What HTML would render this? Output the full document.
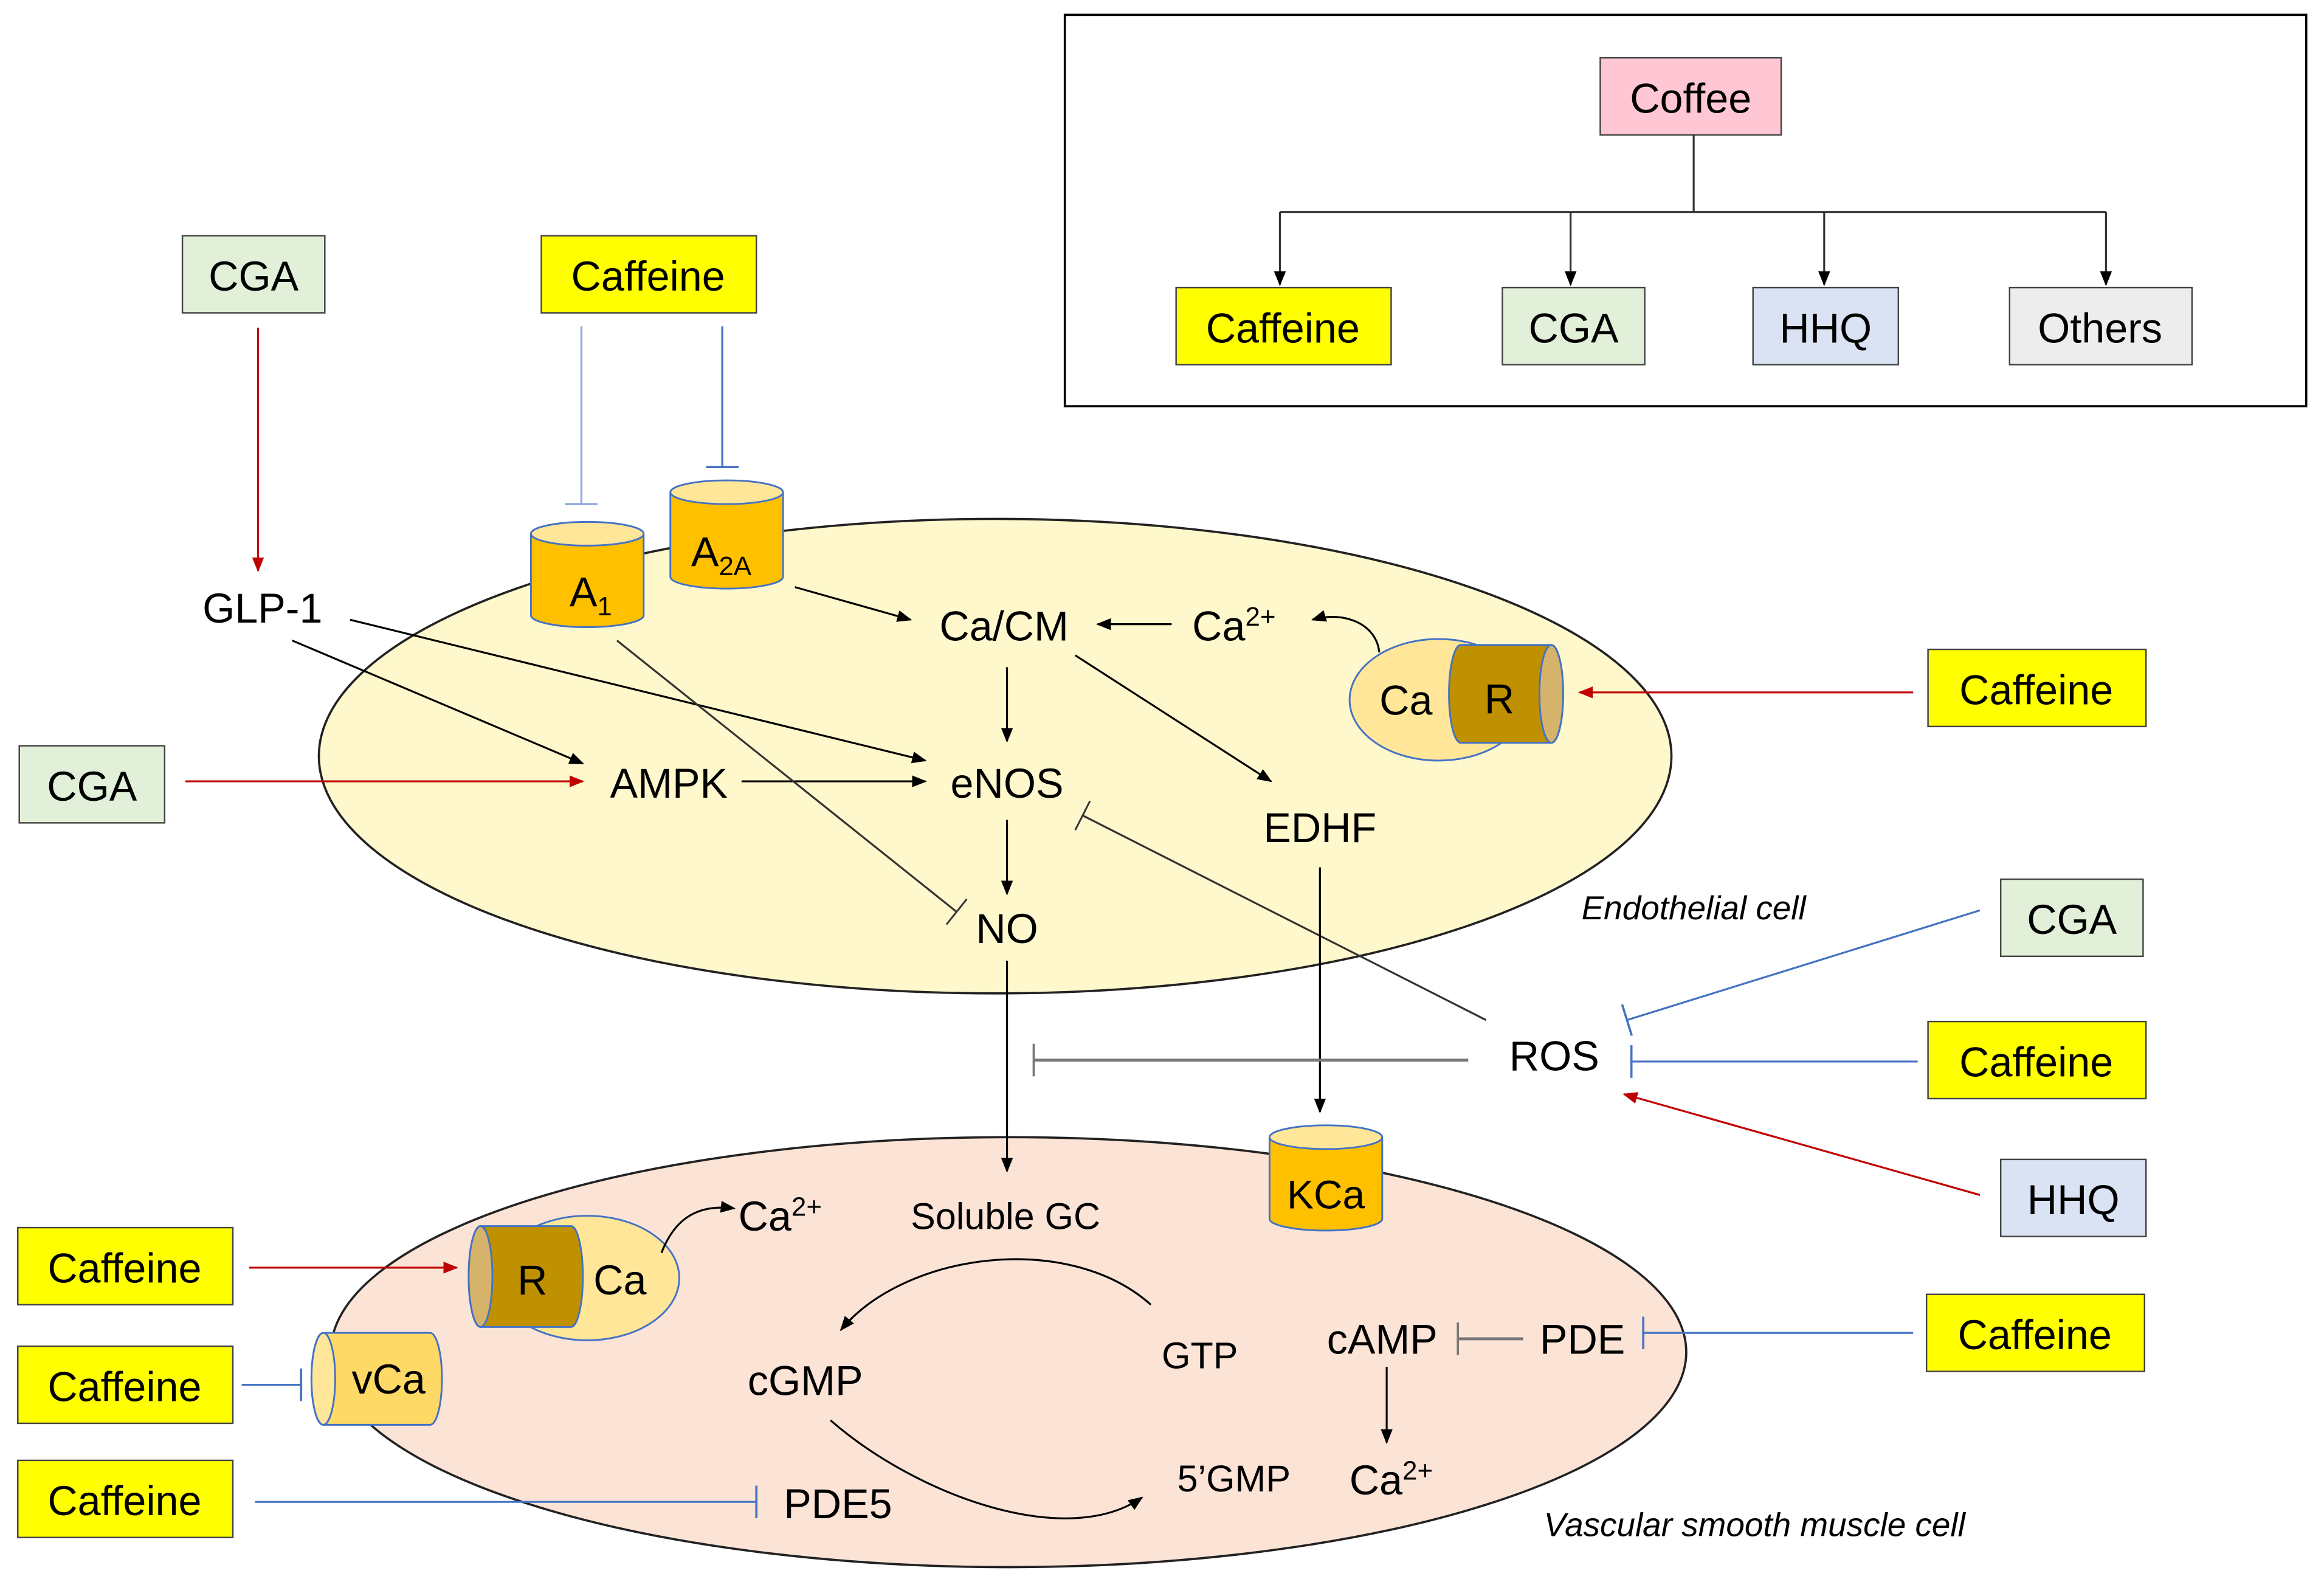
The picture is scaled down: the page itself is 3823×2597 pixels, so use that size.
<!DOCTYPE html>
<html><head><meta charset="utf-8"><style>html,body{margin:0;padding:0;background:#fff}svg{display:block}text{font-family:"Liberation Sans",sans-serif}</style></head><body>
<svg width="3823" height="2597" viewBox="0 0 1567 1065" preserveAspectRatio="none" xmlns="http://www.w3.org/2000/svg">
<defs>
<marker id="ab" markerWidth="10" markerHeight="10" refX="9" refY="5" orient="auto" markerUnits="userSpaceOnUse"><path d="M0,1 L10,5 L0,9 z" fill="#000"/></marker>
<marker id="ar" markerWidth="10" markerHeight="10" refX="9" refY="5" orient="auto" markerUnits="userSpaceOnUse"><path d="M0,1 L10,5 L0,9 z" fill="#c00000"/></marker>
<marker id="tb" markerWidth="4" markerHeight="22" refX="2" refY="11" orient="auto" markerUnits="userSpaceOnUse"><line x1="2" y1="0" x2="2" y2="22" stroke="#4472c4" stroke-width="1.5"/></marker>
<marker id="tg" markerWidth="4" markerHeight="22" refX="2" refY="11" orient="auto" markerUnits="userSpaceOnUse"><line x1="2" y1="0" x2="2" y2="22" stroke="#777" stroke-width="1.5"/></marker>
<marker id="tk" markerWidth="4" markerHeight="22" refX="2" refY="11" orient="auto" markerUnits="userSpaceOnUse"><line x1="2" y1="0" x2="2" y2="22" stroke="#333" stroke-width="1.2"/></marker>
<marker id="tl" markerWidth="4" markerHeight="22" refX="2" refY="11" orient="auto" markerUnits="userSpaceOnUse"><line x1="2" y1="0" x2="2" y2="22" stroke="#8faadc" stroke-width="1.5"/></marker>
</defs>
<rect x="718" y="10" width="837" height="264" fill="none" stroke="#000" stroke-width="1.5"/>
<rect x="1079" y="39" width="122" height="52" fill="#ffc7d4" stroke="#444"/>
<text x="1140" y="76" font-size="28" text-anchor="middle">Coffee</text>
<g stroke="#333" stroke-width="1.3" fill="none">
<line x1="1142" y1="91" x2="1142" y2="143"/><line x1="863" y1="143" x2="1420" y2="143"/>
<line x1="863" y1="143" x2="863" y2="192" marker-end="url(#ab)"/>
<line x1="1059" y1="143" x2="1059" y2="192" marker-end="url(#ab)"/>
<line x1="1230" y1="143" x2="1230" y2="192" marker-end="url(#ab)"/>
<line x1="1420" y1="143" x2="1420" y2="192" marker-end="url(#ab)"/>
</g>
<g font-size="28" text-anchor="middle" stroke="#444">
<rect x="793" y="194" width="145" height="52" fill="#ffff00"/><rect x="1013" y="194" width="96" height="52" fill="#e2f0d9"/>
<rect x="1182" y="194" width="98" height="52" fill="#dae3f3"/><rect x="1355" y="194" width="123" height="52" fill="#ededed"/>
</g>
<g font-size="28" text-anchor="middle">
<text x="865" y="231">Caffeine</text><text x="1061" y="231">CGA</text><text x="1231" y="231">HHQ</text><text x="1416" y="231">Others</text>
</g>
<ellipse cx="671" cy="510" rx="456" ry="160" fill="#fff8cc" stroke="#222" stroke-width="1.5"/>
<ellipse cx="680" cy="912" rx="457" ry="145" fill="#fbe3d6" stroke="#222" stroke-width="1.5"/>
<g stroke="#444">
<rect x="123" y="159" width="96" height="52" fill="#e2f0d9"/><rect x="365" y="159" width="145" height="52" fill="#ffff00"/>
<rect x="13" y="503" width="98" height="52" fill="#e2f0d9"/><rect x="1300" y="438" width="147" height="52" fill="#ffff00"/>
<rect x="1349" y="593" width="96" height="52" fill="#e2f0d9"/><rect x="1300" y="689" width="147" height="52" fill="#ffff00"/>
<rect x="1349" y="782" width="98" height="52" fill="#dae3f3"/><rect x="1299" y="873" width="147" height="52" fill="#ffff00"/>
<rect x="12" y="828" width="145" height="52" fill="#ffff00"/><rect x="12" y="908" width="145" height="52" fill="#ffff00"/>
<rect x="12" y="985" width="145" height="52" fill="#ffff00"/>
</g>
<g font-size="28" text-anchor="middle">
<text x="171" y="196">CGA</text><text x="437" y="196">Caffeine</text><text x="62" y="540">CGA</text>
<text x="1373" y="475">Caffeine</text><text x="1397" y="630">CGA</text><text x="1373" y="726">Caffeine</text>
<text x="1398" y="819">HHQ</text><text x="1372" y="910">Caffeine</text><text x="84" y="865">Caffeine</text>
<text x="84" y="945">Caffeine</text><text x="84" y="1022">Caffeine</text>
</g>
<g stroke="#4472c4" stroke-width="1.2">
<path d="M358,360 L358,415 A38,8 0 0 0 434,415 L434,360" fill="#ffc000"/><ellipse cx="396" cy="360" rx="38" ry="8" fill="#ffe699"/>
<path d="M452,332 L452,389 A38,8 0 0 0 528,389 L528,332" fill="#ffc000"/><ellipse cx="490" cy="332" rx="38" ry="8" fill="#ffe699"/>
<path d="M856,767 L856,822 A38,8 0 0 0 932,822 L932,767" fill="#ffc000"/><ellipse cx="894" cy="767" rx="38" ry="8" fill="#ffe699"/>
</g>
<text x="384" y="409" font-size="28">A<tspan font-size="18" dy="6">1</tspan></text>
<text x="466" y="382" font-size="28">A<tspan font-size="18" dy="6">2A</tspan></text>
<text x="894" y="815" font-size="27" text-anchor="middle">KCa</text>
<g stroke="#4472c4" stroke-width="1.2">
<ellipse cx="970" cy="472" rx="60" ry="41" fill="#ffe699"/>
<path d="M985,435 L1046,435 A8,33 0 0 1 1046,501 L985,501 A8,33 0 0 1 985,435" fill="#bf9000"/>
<ellipse cx="1046" cy="468" rx="8" ry="33" fill="#d6b36a"/>
</g>
<text x="948" y="482" font-size="28" text-anchor="middle">Ca</text><text x="1011" y="481" font-size="28" text-anchor="middle">R</text>
<g stroke="#4472c4" stroke-width="1.2">
<ellipse cx="396" cy="862" rx="62" ry="42" fill="#ffe699"/>
<path d="M324,827 L385,827 A8,34 0 0 1 385,895 L324,895 A8,34 0 0 1 324,827" fill="#bf9000"/>
<ellipse cx="324" cy="861" rx="8" ry="34" fill="#d6b36a"/>
</g>
<text x="359" y="873" font-size="28" text-anchor="middle">R</text><text x="418" y="873" font-size="28" text-anchor="middle">Ca</text>
<g stroke="#4472c4" stroke-width="1.2">
<path d="M218,899 L290,899 A8,31 0 0 1 290,961 L218,961 A8,31 0 0 1 218,899" fill="#ffd966"/>
<ellipse cx="218" cy="930" rx="8" ry="31" fill="#ffe699"/>
</g>
<text x="262" y="940" font-size="28" text-anchor="middle">vCa</text>
<g font-size="28" text-anchor="middle">
<text x="177" y="420">GLP-1</text><text x="677" y="432">Ca/CM</text>
<text x="832" y="432">Ca<tspan font-size="18" dy="-10">2+</tspan></text>
<text x="451" y="538">AMPK</text><text x="679" y="538">eNOS</text><text x="890" y="568">EDHF</text>
<text x="679" y="636">NO</text><text x="1048" y="722">ROS</text>
<text x="526" y="830">Ca<tspan font-size="18" dy="-10">2+</tspan></text>
<text x="543" y="941">cGMP</text><text x="565" y="1024">PDE5</text>
<text x="932" y="913">cAMP</text><text x="1067" y="913">PDE</text>
<text x="938" y="1008">Ca<tspan font-size="18" dy="-10">2+</tspan></text>
</g>
<g font-size="25" text-anchor="middle">
<text x="678" y="829">Soluble GC</text><text x="809" y="923">GTP</text><text x="832" y="1006">5’GMP</text>
</g>
<text x="1142" y="620" font-size="22.5" font-style="italic" text-anchor="middle">Endothelial cell</text>
<text x="1183" y="1036" font-size="22.5" font-style="italic" text-anchor="middle">Vascular smooth muscle cell</text>
<g fill="none" stroke-width="1.3">
<line x1="174" y1="221" x2="174" y2="385" stroke="#c00000" marker-end="url(#ar)"/>
<line x1="392" y1="220" x2="392" y2="340" stroke="#8faadc" marker-end="url(#tl)"/>
<line x1="487" y1="220" x2="487" y2="315" stroke="#4472c4" marker-end="url(#tb)"/>
<line x1="536" y1="396" x2="614" y2="418" stroke="#000" marker-end="url(#ab)"/>
<line x1="790" y1="421" x2="740" y2="421" stroke="#000" marker-end="url(#ab)"/>
<path d="M930,440 C928,420 905,412 885,418" stroke="#000" marker-end="url(#ab)"/>
<line x1="1290" y1="467" x2="1065" y2="467" stroke="#c00000" marker-end="url(#ar)"/>
<line x1="125" y1="527" x2="393" y2="527" stroke="#c00000" marker-end="url(#ar)"/>
<line x1="500" y1="527" x2="624" y2="527" stroke="#000" marker-end="url(#ab)"/>
<line x1="197" y1="432" x2="393" y2="515" stroke="#000" marker-end="url(#ab)"/>
<line x1="236" y1="418" x2="624" y2="513" stroke="#000" marker-end="url(#ab)"/>
<line x1="679" y1="450" x2="679" y2="500" stroke="#000" marker-end="url(#ab)"/>
<line x1="725" y1="442" x2="857" y2="527" stroke="#000" marker-end="url(#ab)"/>
<line x1="679" y1="553" x2="679" y2="603" stroke="#000" marker-end="url(#ab)"/>
<line x1="416" y1="432" x2="645" y2="615" stroke="#333" marker-end="url(#tk)"/>
<line x1="1002" y1="688" x2="730" y2="550" stroke="#333" marker-end="url(#tk)"/>
<line x1="890" y1="585" x2="890" y2="750" stroke="#000" marker-end="url(#ab)"/>
<line x1="679" y1="648" x2="679" y2="790" stroke="#000" marker-end="url(#ab)"/>
<line x1="990" y1="715" x2="697" y2="715" stroke="#777" stroke-width="2" marker-end="url(#tg)"/>
<line x1="1335" y1="614" x2="1097" y2="688" stroke="#4472c4" marker-end="url(#tb)"/>
<line x1="1293" y1="716" x2="1100" y2="716" stroke="#4472c4" marker-end="url(#tb)"/>
<line x1="1335" y1="806" x2="1095" y2="738" stroke="#c00000" marker-end="url(#ar)"/>
<line x1="168" y1="855" x2="308" y2="855" stroke="#c00000" marker-end="url(#ar)"/>
<path d="M446,845 C455,822 470,812 495,815" stroke="#000" marker-end="url(#ab)"/>
<line x1="163" y1="934" x2="203" y2="934" stroke="#4472c4" marker-end="url(#tb)"/>
<line x1="172" y1="1013" x2="510" y2="1013" stroke="#4472c4" marker-end="url(#tb)"/>
<path d="M776,880 C720,830 610,845 567,897" stroke="#000" marker-end="url(#ab)"/>
<path d="M560,958 C620,1010 720,1045 770,1010" stroke="#000" marker-end="url(#ab)"/>
<line x1="1027" y1="903" x2="983" y2="903" stroke="#777" stroke-width="2" marker-end="url(#tg)"/>
<line x1="935" y1="922" x2="935" y2="973" stroke="#000" marker-end="url(#ab)"/>
<line x1="1290" y1="899" x2="1108" y2="899" stroke="#4472c4" marker-end="url(#tb)"/>
</g>
</svg>
</body></html>
